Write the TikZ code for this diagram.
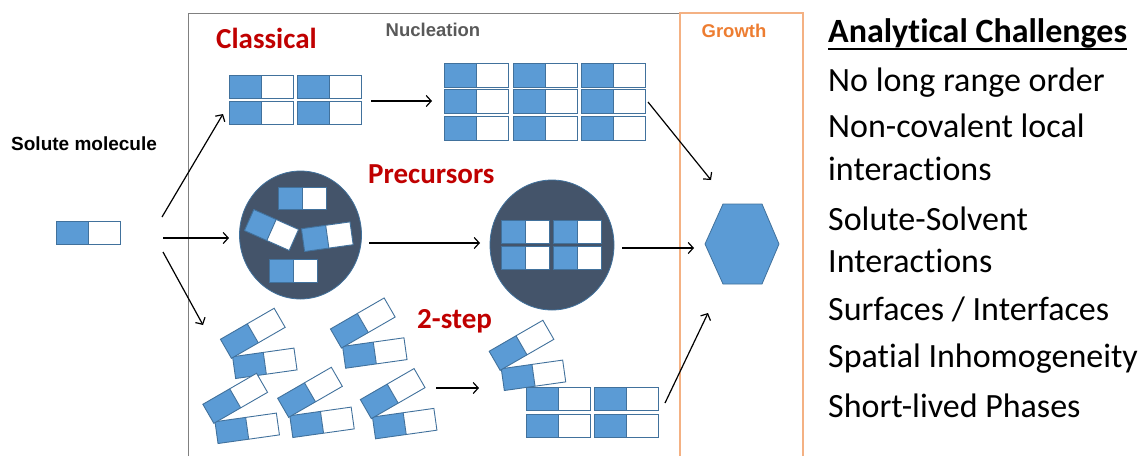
\documentclass[tikz,border=0pt]{standalone}
\usepackage{fontspec}
\usetikzlibrary{arrows.meta,calc}
\newfontfamily\calibfont[Ligatures=NoCommon,Contextuals=NoAlternate]{Carlito}
\newfontfamily\arialfont{Liberation Sans}

\definecolor{molblue}{HTML}{5B9BD5}
\definecolor{moledge}{HTML}{41719C}
\definecolor{clusterfill}{HTML}{44546A}
\definecolor{labelred}{HTML}{C00000}
\definecolor{growthtext}{HTML}{ED7D31}
\definecolor{growthline}{HTML}{F4B183}
\definecolor{nuctext}{HTML}{595959}
\definecolor{nucline}{HTML}{808080}

\tikzset{
  mol/.style={draw=moledge, line width=0.9pt},
  flow/.style={draw=black, line width=1.2pt, -{Straight Barb[length=5pt,width=11pt]}},
  cluster/.style={fill=clusterfill, draw=moledge, line width=0.8pt},
  redlabel/.style={text=labelred, font=\calibfont\bfseries\fontsize{29}{31}\selectfont, inner sep=0pt, anchor=base west},
  stagelabel/.style={font=\arialfont\bfseries\fontsize{18.5}{20}\selectfont, inner sep=0pt, anchor=base},
  listitem/.style={font=\calibfont\fontsize{34}{40}\selectfont, inner sep=0pt, anchor=base west},
}

% one solute molecule: centre x, centre y, angle, width, height
\newcommand\molecule[5]{%
  \begin{scope}[shift={(#1,#2)},rotate=#3]
    \fill[molblue] (-#4/2,-#5/2) rectangle (0,#5/2);
    \fill[white] (0,-#5/2) rectangle (#4/2,#5/2);
    \draw[mol] (0,-#5/2) -- (0,#5/2);
    \draw[mol] (-#4/2,-#5/2) rectangle (#4/2,#5/2);
  \end{scope}}
% a tilted dimer of the two-step route, given by the centre of its lower molecule
\newcommand\dimer[2]{%
  \molecule{#1}{#2}{8}{62}{22}%
  \molecule{#1-12}{#2-30}{30}{62}{22}}

\begin{document}
\begin{tikzpicture}[x=1pt,y=-1pt]
\useasboundingbox (0,0) rectangle (1142,456);

% stage frames
\draw[nucline, line width=1pt] (188,456) -- (188,13) -- (680,13) -- (680,456);
\draw[growthline, line width=1.3pt] (680,456) -- (680,13) -- (803,13) -- (803,456);
\node[stagelabel, text=nuctext] (nuc) at (433,36) {Nucleation};
\node[stagelabel, text=growthtext] (growth) at (734,37) {Growth};

% solute molecule
\node[font=\arialfont\bfseries\fontsize{19}{21}\selectfont, inner sep=0pt, anchor=base west] (solute) at (11,150) {Solute molecule};
\molecule{88}{232.5}{0}{64}{23}

% classical route
\node[redlabel] (classical) at (216,48) {Classical};
\foreach \cx in {261,329.5}{
  \foreach \cy in {86.5,113}{
    \molecule{\cx}{\cy}{0}{64}{23}}}
\foreach \cx in {476,545,613}{
  \foreach \cy in {75,101.5,128}{
    \molecule{\cx}{\cy}{0}{64}{24}}}

% precursor route
\node[redlabel] (precursors) at (368,183) {Precursors};
\path[cluster] (300.5,235) ellipse [x radius=61, y radius=64];
\path[cluster] (552,245) ellipse [x radius=62, y radius=65];
\molecule{302.5}{198}{0}{48}{22}
\molecule{293.5}{271}{0}{48}{23}
\molecule{271.5}{230}{-24}{49}{23}
\molecule{327.3}{236.7}{8}{49}{23}
\foreach \cx in {525,577.5}{
  \foreach \cy in {231.5,257.5}{
    \molecule{\cx}{\cy}{0}{48}{23}}}

% two-step route
\node[redlabel] (twostep) at (417,328) {2-step};
\dimer{264.8}{363.3}
\dimer{374.8}{353}
\dimer{247.2}{428.3}
\dimer{322}{422.3}
\dimer{404.7}{423.6}
\dimer{533.5}{375.3}
\foreach \cx in {558,626}{
  \foreach \cy in {399,425.7}{
    \molecule{\cx}{\cy}{0}{64}{23}}}

% crystal
\draw[fill=molblue, draw=moledge, line width=0.8pt]
  (705,244) -- (723,204) -- (762,204) -- (779,244) -- (762,284) -- (723,284) -- cycle;

% arrow end points
\coordinate (a1s) at (162,217);  \coordinate (a1e) at (223,114);
\coordinate (a2s) at (163,238);  \coordinate (a2e) at (229,238);
\coordinate (a3s) at (163,252);  \coordinate (a3e) at (203,325);
\coordinate (c1s) at (371,101);  \coordinate (c1e) at (432,101);
\coordinate (c2s) at (648,102);  \coordinate (c2e) at (711,180);
\coordinate (p1s) at (369,243);  \coordinate (p1e) at (480,243);
\coordinate (p2s) at (622,248);  \coordinate (p2e) at (694,248);
\coordinate (t1s) at (436,388);  \coordinate (t1e) at (479,388);
\coordinate (t2s) at (665,403);  \coordinate (t2e) at (708,313);

\draw[flow] (a1s) -- (a1e);
\draw[flow] (a2s) -- (a2e);
\draw[flow] (a3s) -- (a3e);
\draw[flow] (c1s) -- (c1e);
\draw[flow] (c2s) -- (c2e);
\draw[flow] (p1s) -- (p1e);
\draw[flow] (p2s) -- (p2e);
\draw[flow] (t1s) -- (t1e);
\draw[flow] (t2s) -- (t2e);

% challenges list
\node[font=\calibfont\bfseries\fontsize{34}{40}\selectfont, inner sep=0pt, anchor=base west] (head) at (828,42.5) {Analytical Challenges};
\draw[line width=2pt] ([yshift=-6pt]head.base west) -- ([yshift=-6pt]head.base east);
\node[listitem] (ch1) at (828,91) {No long range order};
\node[listitem] (ch2a) at (828,137) {Non-covalent local};
\node[listitem] (ch2b) at (828,180) {interactions};
\node[listitem] (ch3a) at (828,230) {Solute-Solvent};
\node[listitem] (ch3b) at (828,272) {Interactions};
\node[listitem] (ch4) at (828,320) {Surfaces / Interfaces};
\node[listitem] (ch5) at (828,367) {Spatial Inhomogeneity};
\node[listitem] (ch6) at (828,417) {Short-lived Phases};
\end{tikzpicture}
\end{document}
